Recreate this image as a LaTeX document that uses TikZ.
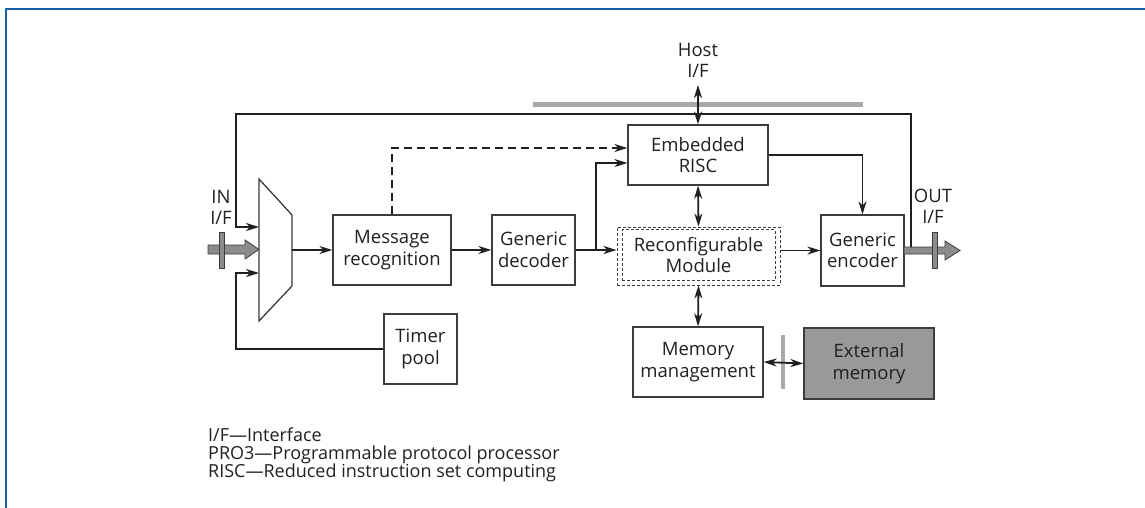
\documentclass[tikz,border=0pt]{standalone}
\usepackage{fontspec}
\setmainfont{Open Sans}
\usetikzlibrary{arrows.meta}
\definecolor{frameblue}{RGB}{27,95,168}
\definecolor{ink}{RGB}{35,31,32}
\definecolor{boxline}{RGB}{60,60,60}
\definecolor{busgray}{RGB}{167,169,172}
\definecolor{pipegray}{RGB}{140,140,140}
\definecolor{memgray}{RGB}{153,153,153}
\begin{document}
\begin{tikzpicture}[x=1pt,y=-1pt,
  tip/.style={-{Stealth[length=13pt,width=8pt,inset=4pt]}},
  bitip/.style={{Stealth[length=13pt,width=8pt,inset=4pt]}-{Stealth[length=13pt,width=8pt,inset=4pt]}},
  conn/.style={draw=ink,line width=1.8pt},
  blk/.style={draw=boxline,line width=1.3pt,fill=white,inner sep=0pt,align=center,
    font=\fontsize{18.5}{21.5}\selectfont,text=ink},
  lbl/.style={inner sep=0pt,align=center,font=\fontsize{18.5}{21}\selectfont,text=ink},
  legend/.style={inner sep=0pt,anchor=base west,font=\fontsize{18}{18}\selectfont,text=ink},
  pipe/.style={fill=pipegray,draw=boxline,line width=0.8pt},
  bus/.style={fill=busgray,draw=none}]
\useasboundingbox (0,0) rectangle (1145,508);

% page frame
\draw[frameblue,line width=2.5pt] (6,508) -- (6,9) -- (1145,9);

% blocks
\node[blk,minimum width=118pt,minimum height=70pt] (msg) at (392,250) {Message\\recognition};
\node[blk,minimum width=73pt,minimum height=70pt] (timer) at (420.5,349) {Timer\\pool};
\node[blk,minimum width=83pt,minimum height=70pt] (dec) at (533.5,250) {Generic\\decoder};
\node[blk,minimum width=140pt,minimum height=60pt] (risc) at (698,155) {Embedded\\RISC};
\node[draw=boxline,dash pattern=on 3pt off 2pt,line width=1pt,minimum width=163pt,minimum height=58pt,inner sep=0pt] (rec) at (698.5,256) {};
\node[draw=boxline,dash pattern=on 3pt off 2pt,line width=1pt,minimum width=153pt,minimum height=51pt,inner sep=0pt,
  align=center,font=\fontsize{18.5}{21.5}\selectfont,text=ink] (recin) at (698.5,255) {Reconfigurable\\Module};
\node[blk,minimum width=83pt,minimum height=71pt] (enc) at (862.5,250.5) {Generic\\encoder};
\node[blk,minimum width=130pt,minimum height=70pt] (mem) at (698,362) {Memory\\management};
\node[blk,fill=memgray,minimum width=130pt,minimum height=71pt] (ext) at (869,363.5) {External\\memory};

% input multiplexer
\coordinate (m1) at (259,179);
\coordinate (m2) at (292,215);
\coordinate (m3) at (292,286);
\coordinate (m4) at (259,321);
\draw[boxline,line width=1.3pt,fill=white] (m1) -- (m2) -- (m3) -- (m4) -- cycle;
\coordinate (muxin1) at (259,227);
\coordinate (muxin2) at (259,273);
\coordinate (muxout) at (292,250);
\coordinate (lx) at (236,114);

% interface labels
\node[lbl] (inlbl) at (221,207) {IN\\I/F};
\node[lbl] (outlbl) at (933,206) {OUT\\I/F};
\node[lbl] (hostlbl) at (698,60) {Host\\I/F};

% host bus
\fill[bus] (533,102) rectangle (863,107);
\coordinate (host) at (698,85);

% input and output pipes
\draw[pipe] (208,245) -- (245,245) -- (245,240) -- (259,249.5) -- (245,259) -- (245,254) -- (208,254) -- cycle;
\draw[pipe] (219,232) rectangle (224,268);
\draw[pipe] (904,247) -- (945,247) -- (945,241) -- (960,250.5) -- (945,260) -- (945,254) -- (904,254) -- cycle;
\draw[pipe] (932,232) rectangle (937,268);
\coordinate (fb) at (911,247);

% memory interface bar
\fill[bus] (781,335) rectangle (785,389);

% connectors
\draw[conn,tip] (fb) |- (lx) |- (muxin1);
\draw[conn,tip] (timer.west) -| (lx |- muxin2) -- (muxin2);
\draw[conn,tip] (muxout) -- (msg.west);
\draw[conn,tip] (msg.east) -- (dec.west);
\coordinate (br) at (596,250);
\draw[conn,tip] (dec.east) -- (rec.west |- dec.east);
\draw[conn,tip] (br) |- (risc.west |- 0,163);
\draw[conn,tip,dash pattern=on 8pt off 5pt] (msg.north) |- (risc.west |- 0,148);
\draw[conn,tip] (risc.east) -| (enc.north);
\draw[conn,tip] (rec.east |- enc.west) -- (enc.west);
\draw[conn,bitip] (host) -- (risc.north);
\draw[conn,bitip] (risc.south) -- (rec.north);
\draw[conn,bitip] (rec.south) -- (mem.north);
\draw[conn,bitip] (mem.east) -- (ext.west);

% legend
\node[legend] (l1) at (208,441) {I/F—Interface};
\node[legend] (l2) at (208,459) {PRO3—Programmable protocol processor};
\node[legend] (l3) at (208,477) {RISC—Reduced instruction set computing};
\end{tikzpicture}
\end{document}
